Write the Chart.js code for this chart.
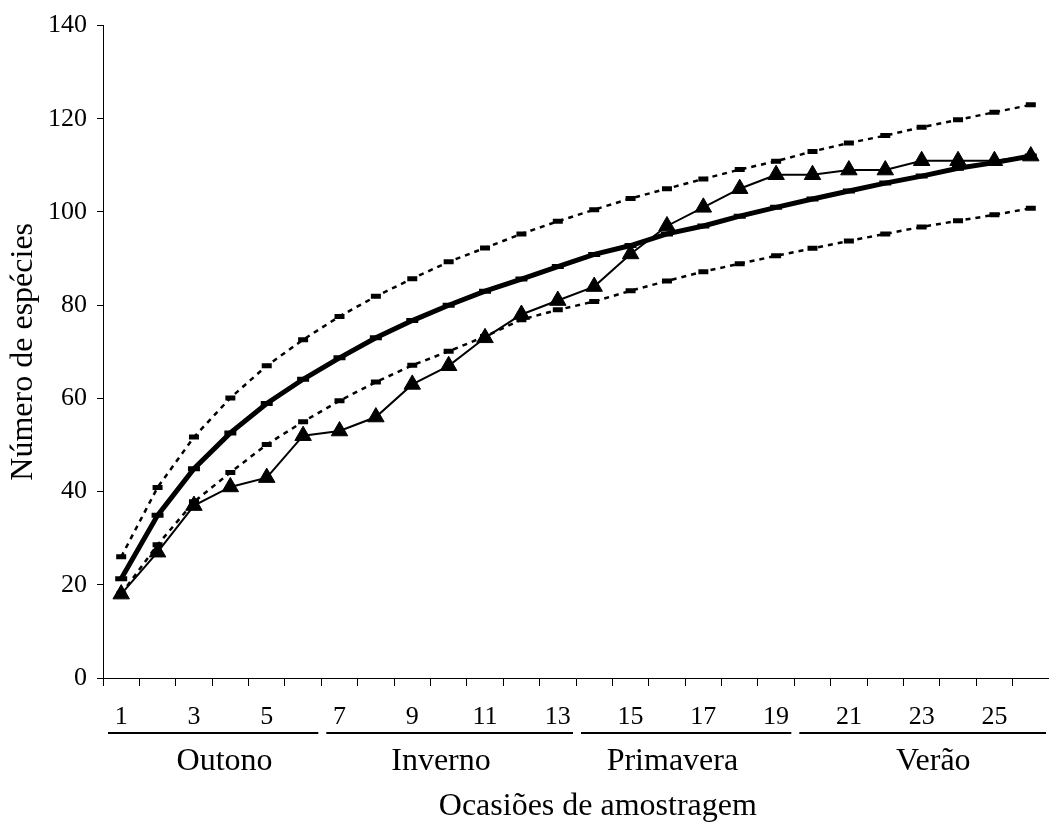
<!DOCTYPE html>
<html>
<head>
<meta charset="utf-8">
<title>Curva de acumulação de espécies</title>
<script src="https://cdn.jsdelivr.net/npm/chart.js@4.4.1/dist/chart.umd.min.js"></script>
<style>
  html, body { margin:0; padding:0; background:#fff; overflow:hidden; }
  #wrap { width:1060px; height:823px; }
</style>
</head>
<body>
<div id="wrap"><canvas id="chart" width="1060" height="823"></canvas></div>
<script>
// data
const occasions = ['1','2','3','4','5','6','7','8','9','10','11','12','13','14','15','16','17','18','19','20','21','22','23','24','25','26'];
const observed  = [18, 27, 37, 41, 43, 52, 53, 56, 63, 67, 73, 78, 81, 84, 91, 97, 101, 105, 108, 108, 109, 109, 111, 111, 111, 112];
const estimated = [21.3, 34.9, 44.9, 52.6, 58.9, 64.1, 68.7, 73.0, 76.7, 80.0, 83.0, 85.6, 88.3, 90.9, 92.8, 95.3, 97.0, 99.1, 101.0, 102.8, 104.5, 106.2, 107.7, 109.4, 110.6, 112.0];
const upper95   = [26.0, 40.9, 51.7, 60.1, 67.0, 72.6, 77.6, 81.9, 85.7, 89.3, 92.3, 95.3, 98.0, 100.5, 102.9, 105.0, 107.1, 109.1, 110.9, 113.0, 114.8, 116.4, 118.2, 119.8, 121.4, 123.0];
const lower95   = [18.0, 28.6, 37.8, 44.1, 50.1, 55.0, 59.5, 63.5, 67.1, 70.1, 73.3, 76.9, 79.0, 80.8, 83.1, 85.2, 87.2, 88.9, 90.6, 92.2, 93.8, 95.3, 96.8, 98.1, 99.4, 100.8];
const yTicks    = [0, 20, 40, 60, 80, 100, 120, 140];

// seasons grouping of the occasions (second level of the x axis)
const seasonNames = ['Outono', 'Inverno', 'Primavera', 'Verão'];
const seasonFrom  = [1, 7, 14, 20];
const seasonTo    = [6, 13, 19, 26];
const seasonLabelAt = [3.84, 9.79, 16.15, 23.32]; // where excel put the group labels
const xTitle = 'Ocasiões de amostragem';
const xTitleAt = 14.1;
const yTitle = 'Número de espécies';

const FONT = '"Liberation Serif", "Times New Roman", serif';

// second level of the category axis + axis title
const seasonAxis = {
  id: 'seasonAxis',
  afterDraw(chart){
    const {ctx, chartArea, scales:{x}} = chart;
    const half = (x.getPixelForValue(1) - x.getPixelForValue(0)) / 2;
    const bottom = chartArea.bottom;
    ctx.save();
    ctx.fillStyle = '#000'; ctx.strokeStyle = '#000'; ctx.lineWidth = 2;
    ctx.textAlign = 'center'; ctx.textBaseline = 'alphabetic';
    ctx.font = '32px ' + FONT;
    seasonNames.forEach((name, k) => {
      const a = x.getPixelForValue(seasonFrom[k] - 1) - half + 5;
      const b = x.getPixelForValue(seasonTo[k] - 1) + half - 3;
      ctx.beginPath(); ctx.moveTo(a, bottom + 55); ctx.lineTo(b, bottom + 55); ctx.stroke();
      ctx.fillText(name, x.getPixelForValue(seasonLabelAt[k] - 1), bottom + 92);
    });
    ctx.fillText(xTitle, x.getPixelForValue(xTitleAt - 1), bottom + 137);
    ctx.restore();
  }
};

const boundStyle = {
  borderColor:'#000', borderWidth:2.5, borderDash:[5,5],
  pointStyle:'line', pointRadius:5, pointBorderWidth:5, pointBorderColor:'#000',
  pointHoverRadius:5, fill:false, tension:0
};

new Chart(document.getElementById('chart'), {
  type: 'line',
  data: {
    labels: occasions,
    datasets: [
      Object.assign({label:'IC 95% superior', data: upper95, order: 4}, boundStyle),
      Object.assign({label:'IC 95% inferior', data: lower95, order: 3}, boundStyle),
      {label:'Estimada', data: estimated, borderColor:'#000', borderWidth:5,
       pointStyle:'line', pointRadius:6, pointBorderWidth:5, pointBorderColor:'#000', tension:0, order:2},
      {label:'Observada', data: observed, borderColor:'#000', borderWidth:2,
       pointStyle:'triangle', pointRadius:9.5, pointBackgroundColor:'#000', pointBorderColor:'#000',
       pointBorderWidth:1, tension:0, order:1}
    ]
  },
  options: {
    responsive: false,
    animation: false,
    devicePixelRatio: 1,
    layout: { padding: { top:20, right:7, left:0, bottom:0 } },
    plugins: { legend:{display:false}, tooltip:{enabled:false} },
    scales: {
      x: {
        offset: true,
        grid: { display:true, offset:true, drawOnChartArea:false, drawTicks:true, tickLength:8, color:'#000', lineWidth:1 },
        border: { display:true, color:'#000', width:1 },
        ticks: {
          autoSkip:false, maxRotation:0, minRotation:0, padding:16, color:'#000',
          font: { family: FONT, size: 26 },
          callback: (v, i) => (i % 2 === 0 ? occasions[i] : '')
        },
        afterFit: s => { s.height = 145; }
      },
      y: {
        min: 0, max: 140,
        afterBuildTicks: s => { s.ticks = yTicks.map(v => ({value:v})); },
        grid: { display:true, drawOnChartArea:false, drawTicks:true, tickLength:6, color:'#000', lineWidth:1 },
        border: { display:true, color:'#000', width:1 },
        ticks: { padding:10, color:'#000', font:{ family: FONT, size: 26 } },
        title: { display:true, text: yTitle, color:'#000', font:{ family: FONT, size: 32 }, padding:{ top:4, bottom:0 } },
        afterFit: s => { s.width = 103; }
      }
    }
  },
  plugins: [seasonAxis]
});
</script>
</body>
</html>
